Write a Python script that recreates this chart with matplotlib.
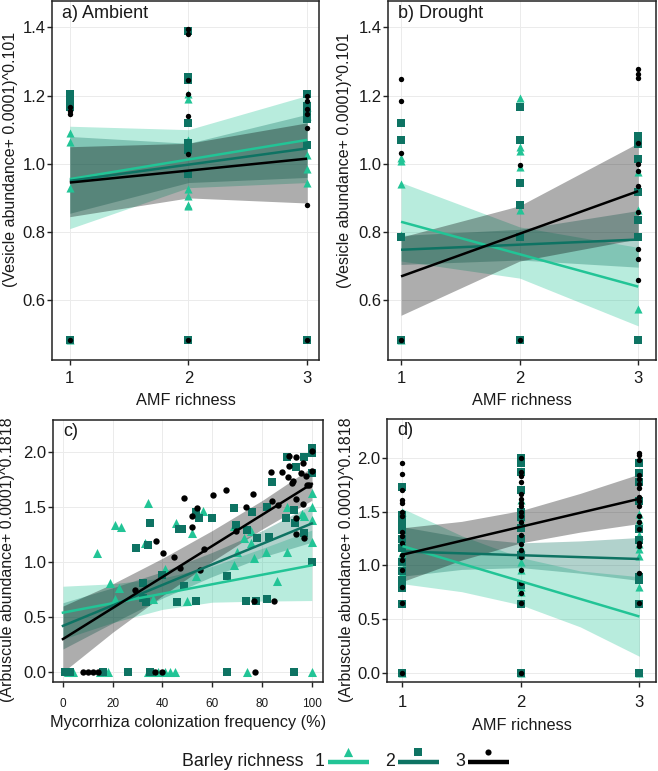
import matplotlib
matplotlib.use("Agg")
import matplotlib.pyplot as plt
from matplotlib.lines import Line2D

plt.rcParams['font.family'] = ['Liberation Sans', 'DejaVu Sans']

# ---------------- colours ----------------
C1 = '#22C496'   # barley richness 1
C2 = '#0E7363'   # barley richness 2
C3 = '#000000'   # barley richness 3
COLS = [C1, C2, C3]
MARK = ['^', 's', 'o']
MSIZE = [34, 26, 15]

amf_levels = [1, 2, 3]

# ---------------- panel a (Ambient) ----------------
a_g1 = {1: [1.09, 1.065, 0.93, 0.485],
        2: [1.205, 1.19, 1.07, 1.055, 0.925, 0.905, 0.88, 0.875],
        3: [1.165, 1.14, 1.025, 0.985, 0.945]}
a_g2 = {1: [1.205, 1.195, 1.185, 1.175, 1.165, 0.485],
        2: [1.39, 1.255, 1.245, 1.12, 1.06, 1.05, 1.04, 0.97, 0.485],
        3: [1.205, 1.17, 1.16, 1.15, 1.13, 1.055, 0.485]}
a_g3 = {1: [1.165, 1.155, 1.145, 0.485],
        2: [1.395, 1.38, 1.245, 1.205, 1.14, 1.03, 0.485],
        3: [1.2, 1.185, 1.16, 1.145, 1.105, 0.88, 0.485]}
a_fit = [[0.955, 1.012, 1.07], [0.95, 0.997, 1.045], [0.945, 0.98, 1.015]]
a_lo = [[0.81, 0.93, 0.945], [0.855, 0.945, 0.96], [0.845, 0.90, 0.885]]
a_hi = [[1.11, 1.10, 1.20], [1.08, 1.06, 1.145], [1.05, 1.06, 1.12]]

# ---------------- panel b (Drought) ----------------
b_g1 = {1: [1.018, 1.008, 0.94, 0.79, 0.485],
        2: [1.194, 1.05, 1.037, 0.99, 0.865],
        3: [0.975, 0.865, 0.574]}
b_g2 = {1: [1.12, 1.07, 0.784, 0.485],
        2: [1.167, 1.07, 0.945, 0.88, 0.784, 0.485],
        3: [1.082, 1.058, 1.014, 0.916, 0.834, 0.784, 0.485]}
b_g3 = {1: [1.248, 1.184, 1.033, 0.485],
        2: [0.996, 0.485],
        3: [1.277, 1.262, 1.252, 1.062, 1.0, 0.98, 0.936, 0.86, 0.75, 0.72, 0.66]}
b_fit = [[0.83, 0.735, 0.64], [0.748, 0.763, 0.778], [0.67, 0.795, 0.92]]
b_lo = [[0.715, 0.665, 0.525], [0.705, 0.718, 0.697], [0.556, 0.715, 0.78]]
b_hi = [[0.945, 0.815, 0.755], [0.79, 0.808, 0.863], [0.785, 0.877, 1.061]]

# ---------------- panel c (colonization vs arbuscules) ----------------
c_g1_x = [13.7, 20.8, 23.5, 34.3, 32.8, 18.8, 22.5, 20.8, 45.5, 51.9, 56.4, 41, 53.5, 50, 36,
          68.8, 72.8, 70, 68.8, 76.8, 81.5, 85.9, 90, 90, 96, 97, 100, 100, 100, 100, 75.5, 75.5,
          2, 4, 15, 18, 34, 36, 38, 41, 43, 45, 74, 100]
c_g1_y = [1.085, 1.336, 1.32, 1.535, 1.17, 0.81, 0.76, 0.66, 1.35, 1.26, 1.46, 0.94, 0.87, 0.65, 0.66,
          1.33, 1.22, 1.09, 0.97, 1.04, 1.09, 0.83, 1.50, 1.09, 1.44, 1.42, 1.63, 1.50, 1.18, 1.38, 1.17, 1.28,
          0, 0, 0, 0, 0, 0, 0, 0, 0, 0, 0, 0]
c_g2_x = [29.2, 34, 34.8, 46.8, 48, 54.8, 59.9, 53.5, 68.8, 69.5, 76, 74, 78, 82.8, 82, 84, 90, 93.5,
          96.8, 100, 100, 100, 89.5, 93.2, 93, 96.8, 100, 32, 32, 33.5, 46, 53.5, 48.8, 40, 66, 73.5,
          77.5, 82, 1, 3, 16, 26, 35, 66, 93]
c_g2_y = [1.13, 1.15, 1.35, 1.30, 1.30, 1.40, 1.40, 1.45, 1.49, 1.34, 1.45, 1.29, 1.22, 1.23, 1.50, 1.73,
          1.95, 1.86, 1.95, 2.04, 1.99, 1.81, 1.40, 1.35, 1.47, 1.26, 1.00, 0.81, 0.67, 0.64, 0.64, 0.65,
          0.78, 0.88, 0.87, 0.65, 0.65, 0.66, 0, 0, 0, 0, 0, 0, 0]
c_g3_x = [28.8, 37.5, 40.4, 44.5, 47.2, 48.8, 51.9, 52, 53.7, 56.8, 60.1, 65.5, 73.5, 76.4, 69.7, 83.5,
          88, 84, 86.5, 90.8, 93.5, 90.8, 92.5, 95.5, 96.5, 97.5, 98, 100, 100, 93.5, 96.5, 93.5, 93.5,
          96.8, 99, 92, 90.5, 76.8, 84.8, 55, 8, 10, 12, 14, 37, 40, 77]
c_g3_y = [0.745, 1.19, 1.085, 1.05, 0.95, 1.58, 1.42, 1.32, 1.49, 1.12, 1.61, 1.65, 1.50, 1.62, 1.28, 1.82,
          1.82, 1.55, 1.52, 1.96, 1.95, 1.87, 1.74, 1.81, 1.90, 1.78, 1.70, 2.01, 1.83, 1.57, 1.53, 1.40, 1.25,
          1.22, 1.70, 1.72, 1.77, 0.65, 0.65, 0.93, 0, 0, 0, 0, 0, 0, 0]
c_band_x = [0, 20, 40, 60, 80, 100]
c_fit = [[0.54, 0.626, 0.712, 0.798, 0.884, 0.97],
         [0.42, 0.606, 0.792, 0.978, 1.164, 1.35],
         [0.30, 0.582, 0.864, 1.146, 1.428, 1.71]]
c_lo = [[0.30, 0.45, 0.57, 0.635, 0.645, 0.65],
        [0.21, 0.446, 0.672, 0.868, 1.044, 1.18],
        [0.0, 0.362, 0.694, 1.006, 1.298, 1.56]]
c_hi = [[0.78, 0.802, 0.854, 0.961, 1.123, 1.29],
        [0.63, 0.766, 0.912, 1.088, 1.284, 1.52],
        [0.60, 0.802, 1.034, 1.286, 1.558, 1.86]]

# ---------------- panel d (AMF richness vs arbuscules) ----------------
d_g1 = {1: [1.50, 1.25, 1.12, 1.03, 0.93, 0.0],
        2: [1.61, 1.45, 1.40, 1.16, 1.03, 0.96, 0.80, 0.75, 0.0],
        3: [1.48, 1.42, 1.28, 1.20, 1.15, 1.09, 0.80, 0.0]}
d_g2 = {1: [1.73, 1.47, 1.40, 1.33, 1.25, 1.16, 1.03, 0.95, 0.86, 0.79, 0.64, 0.0],
        2: [2.0, 1.95, 1.87, 1.70, 1.50, 1.45, 1.35, 1.25, 1.10, 0.82, 0.64, 0.0],
        3: [1.95, 1.86, 1.78, 1.60, 1.34, 1.24, 0.89, 0.86, 0.64, 0.0]}
d_g3 = {1: [1.95, 1.85, 1.70, 1.61, 1.58, 1.50, 1.46, 1.31, 1.27, 1.21, 1.10, 1.05, 0.96, 0.80, 0.65, 0.0],
        2: [2.0, 1.87, 1.83, 1.78, 1.66, 1.62, 1.58, 1.55, 1.50, 1.46, 1.40, 1.28, 1.20, 1.14, 1.08,
            0.96, 0.84, 0.74, 0.65, 0.0],
        3: [2.05, 2.03, 1.98, 1.84, 1.80, 1.76, 1.72, 1.64, 1.60, 1.55, 1.46, 1.40, 1.34, 1.21, 1.18,
            0.93, 0.65]}
d_band_x = [1, 1.5, 2, 2.5, 3]
d_fit = [[1.18, 1.016, 0.853, 0.689, 0.525],
         [1.13, 1.113, 1.095, 1.078, 1.06],
         [1.10, 1.23, 1.36, 1.49, 1.62]]
d_lo = [[0.83, 0.756, 0.633, 0.429, 0.155],
        [0.90, 0.963, 0.98, 0.928, 0.86],
        [0.85, 1.05, 1.21, 1.31, 1.39]]
d_hi = [[1.53, 1.276, 1.073, 0.949, 0.895],
        [1.36, 1.263, 1.21, 1.228, 1.26],
        [1.35, 1.41, 1.51, 1.67, 1.85]]

legend_title = 'Barley richness'
legend_labels = ['1', '2', '3']

# ---------------- figure ----------------
W, H = 658, 771
fig = plt.figure(figsize=(W / 100, H / 100), dpi=100)


def px_axes(l, r, t, b):
    return fig.add_axes([l / W, 1 - b / H, (r - l) / W, (b - t) / H])


ax_a = px_axes(52, 319, 1, 360)
ax_b = px_axes(388, 656, 1, 360)
ax_c = px_axes(53, 323, 420, 682)
ax_d = px_axes(387, 656, 419, 682)

TXT = '#1a1a1a'
FS_TICK = 12
FS_LAB = 11.7


def style(ax):
    for s in ax.spines.values():
        s.set_linewidth(1.1)
        s.set_color('#222222')
    ax.grid(True, color='#ebebeb', lw=0.7)
    ax.set_axisbelow(True)
    ax.tick_params(direction='out', length=3.5, width=1.0, color='#222222',
                   labelsize=FS_TICK, labelcolor=TXT)
    ax.tick_params(axis='y', pad=1)
    ax.tick_params(axis='x', pad=4.5)


def cat_panel(ax, groups, fit, lo, hi, band_x):
    for i in range(3):
        ax.fill_between(band_x, lo[i], hi[i], color=COLS[i], alpha=0.32, lw=0, zorder=1)
    for i, g in enumerate(groups):
        xs, ys = [], []
        for lev in amf_levels:
            xs += [lev] * len(g[lev])
            ys += g[lev]
        ax.scatter(xs, ys, marker=MARK[i], s=MSIZE[i], color=COLS[i], lw=0, zorder=3)
    for i in range(3):
        ax.plot([band_x[0], band_x[-1]], [fit[i][0], fit[i][-1]], color=COLS[i], lw=1.8,
                zorder=4, solid_capstyle='butt')
    ax.set_xticks(amf_levels)


# panel a
cat_panel(ax_a, [a_g1, a_g2, a_g3], a_fit, a_lo, a_hi, amf_levels)
ax_a.set_xlim(0.85, 3.1)
ax_a.set_ylim(0.425, 1.477)
ax_a.set_yticks([0.6, 0.8, 1.0, 1.2, 1.4])
ax_a.set_yticklabels(['0.6', '0.8', '1.0', '1.2', '1.4'])
# panel b
cat_panel(ax_b, [b_g1, b_g2, b_g3], b_fit, b_lo, b_hi, amf_levels)
ax_b.set_xlim(0.89, 3.15)
ax_b.set_ylim(0.425, 1.477)
ax_b.set_yticks([0.6, 0.8, 1.0, 1.2, 1.4])
ax_b.set_yticklabels(['0.6', '0.8', '1.0', '1.2', '1.4'])
# panel d
cat_panel(ax_d, [d_g1, d_g2, d_g3], d_fit, d_lo, d_hi, d_band_x)
ax_d.set_xlim(0.87, 3.14)
ax_d.set_ylim(-0.084, 2.362)
ax_d.set_yticks([0.0, 0.5, 1.0, 1.5, 2.0])
ax_d.set_yticklabels(['0.0', '0.5', '1.0', '1.5', '2.0'])

# panel c
for i in range(3):
    ax_c.fill_between(c_band_x, c_lo[i], c_hi[i], color=COLS[i], alpha=0.32, lw=0, zorder=1)
for i, (xs, ys) in enumerate([(c_g1_x, c_g1_y), (c_g2_x, c_g2_y), (c_g3_x, c_g3_y)]):
    ax_c.scatter(xs, ys, marker=MARK[i], s=MSIZE[i] * 1.25 if i < 2 else MSIZE[i] * 1.4,
                 color=COLS[i], lw=0, zorder=3)
for i in range(3):
    ax_c.plot([c_band_x[0], c_band_x[-1]], [c_fit[i][0], c_fit[i][-1]], color=COLS[i], lw=1.8, zorder=4)
ax_c.set_xlim(-4, 104.5)
ax_c.set_ylim(-0.09, 2.29)
ax_c.set_xticks([0, 20, 40, 60, 80, 100])
ax_c.set_yticks([0.0, 0.5, 1.0, 1.5, 2.0])
ax_c.set_yticklabels(['0.0', '0.5', '1.0', '1.5', '2.0'])

for ax in (ax_a, ax_b, ax_c, ax_d):
    style(ax)
ax_c.tick_params(axis='x', labelsize=8.5, pad=8)
ax_d.tick_params(axis='x', pad=6)

# labels
ylab_v = '(Vesicle abundance+ 0.0001)^0.101'
ylab_a = '(Arbuscule abundance+ 0.0001)^0.1818'
for ax, lab, xc, yc in [(ax_a, ylab_v, -0.127, 0.56), (ax_b, ylab_v, -0.134, 0.555),
                        (ax_c, ylab_a, -0.141, 0.466), (ax_d, ylab_a, -0.123, 0.464)]:
    ax.set_ylabel(lab, fontsize=11.5, color=TXT)
    ax.yaxis.set_label_coords(xc, yc)
ax_a.set_xlabel('AMF richness', fontsize=FS_LAB, color=TXT)
ax_a.xaxis.set_label_coords(0.5, -0.092)
ax_b.set_xlabel('AMF richness', fontsize=FS_LAB, color=TXT)
ax_b.xaxis.set_label_coords(0.5, -0.092)
ax_c.set_xlabel('Mycorrhiza colonization frequency (%)', fontsize=FS_LAB, color=TXT)
ax_c.xaxis.set_label_coords(0.5, -0.125)
ax_d.set_xlabel('AMF richness', fontsize=FS_LAB, color=TXT)
ax_d.xaxis.set_label_coords(0.5, -0.135)

for ax, t in [(ax_a, 'a) Ambient'), (ax_b, 'b) Drought'), (ax_c, 'c)'), (ax_d, 'd)')]:
    ax.text(0.037, 0.988, t, transform=ax.transAxes, ha='left', va='top', fontsize=13, color=TXT)

# legend (drawn in pixel coordinates of an overlay axes)
lg = fig.add_axes([0, 0, 1, 1], zorder=-1)
lg.set_xlim(0, W)
lg.set_ylim(H, 0)
lg.set_axis_off()
lg.text(182, 761, legend_title, fontsize=12.8, ha='left', va='center', color=TXT)
num_x = [320, 390, 460]
for i in range(3):
    lg.text(num_x[i], 761, legend_labels[i], fontsize=12.8, ha='center', va='center', color=TXT)
    x0 = num_x[i] + 8
    lg.add_line(Line2D([x0, x0 + 41], [762, 762], color=COLS[i], lw=3.2, solid_capstyle='butt'))
    lg.scatter([x0 + 20], [751.5], marker=MARK[i], s=MSIZE[i] * 1.3, color=COLS[i], lw=0)

fig.savefig('out.png', dpi=100)
